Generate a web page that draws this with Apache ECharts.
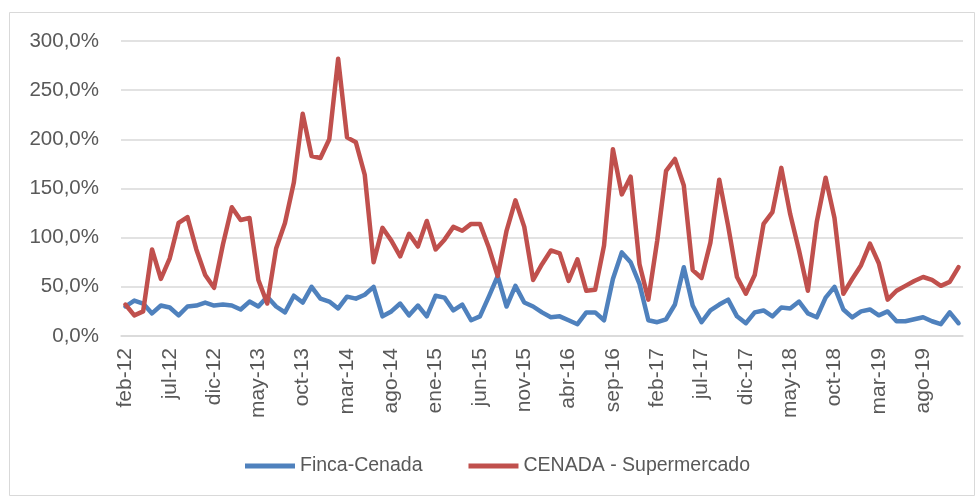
<!DOCTYPE html>
<html>
<head>
<meta charset="utf-8">
<script src="https://cdn.jsdelivr.net/npm/echarts@6/dist/echarts.min.js"></script>
<style>
  html, body { margin: 0; padding: 0; background: #fff; }
  #chart { width: 978px; height: 497px; }
</style>
</head>
<body>
<div id="chart"></div>
<script>
// meses feb-12 .. dic-19
const months = [
  'feb-12', 'mar-12', 'abr-12', 'may-12', 'jun-12', 'jul-12', 'ago-12', 'sep-12', 'oct-12', 'nov-12', 'dic-12',
  'ene-13', 'feb-13', 'mar-13', 'abr-13', 'may-13', 'jun-13', 'jul-13', 'ago-13', 'sep-13', 'oct-13', 'nov-13', 'dic-13',
  'ene-14', 'feb-14', 'mar-14', 'abr-14', 'may-14', 'jun-14', 'jul-14', 'ago-14', 'sep-14', 'oct-14', 'nov-14', 'dic-14',
  'ene-15', 'feb-15', 'mar-15', 'abr-15', 'may-15', 'jun-15', 'jul-15', 'ago-15', 'sep-15', 'oct-15', 'nov-15', 'dic-15',
  'ene-16', 'feb-16', 'mar-16', 'abr-16', 'may-16', 'jun-16', 'jul-16', 'ago-16', 'sep-16', 'oct-16', 'nov-16', 'dic-16',
  'ene-17', 'feb-17', 'mar-17', 'abr-17', 'may-17', 'jun-17', 'jul-17', 'ago-17', 'sep-17', 'oct-17', 'nov-17', 'dic-17',
  'ene-18', 'feb-18', 'mar-18', 'abr-18', 'may-18', 'jun-18', 'jul-18', 'ago-18', 'sep-18', 'oct-18', 'nov-18', 'dic-18',
  'ene-19', 'feb-19', 'mar-19', 'abr-19', 'may-19', 'jun-19', 'jul-19', 'ago-19', 'sep-19', 'oct-19', 'nov-19', 'dic-19'
]

// margen en %
const fincaCenada = [
  30, 36, 33, 23, 31, 29, 21, 30, 31, 34, 31,
  32, 31, 27, 35, 30, 40, 30, 24, 41, 34, 50, 38,
  35, 28, 40, 38, 42, 50, 20, 25, 33, 21, 31, 20,
  41, 39, 26, 32, 16, 20, 40, 61, 30, 51, 34, 30,
  24, 19, 20, 16, 12, 24, 24, 16, 58, 85, 75, 53,
  16, 14, 17, 32, 70, 31, 14, 26, 32, 37, 20, 13,
  24, 26, 20, 29, 28, 35, 23, 19, 39, 50, 27, 19,
  25, 27, 21, 25, 15, 15, 17, 19, 15, 12, 24, 13
]

const cenadaSuper = [
  32, 21, 25, 88, 58, 79, 115, 121, 88, 62, 49,
  93, 131, 118, 120, 57, 33, 89, 115, 156, 226, 183, 181,
  200, 282, 202, 197, 164, 75, 110, 97, 81, 104, 91, 117,
  88, 98, 111, 107, 114, 114, 90, 61, 107, 138, 111, 57,
  73, 87, 84, 56, 78, 46, 47, 92, 190, 144, 162, 73,
  37, 97, 168, 180, 153, 67, 59, 95, 159, 112, 60, 43,
  62, 114, 126, 171, 124, 87, 46, 116, 161, 120, 43, 58,
  72, 94, 74, 37, 46, 51, 56, 60, 57, 51, 55, 70
]

const chart = echarts.init(document.getElementById('chart'))
const font = 'Liberation Sans'

chart.setOption({
  animation: false,
  backgroundColor: '#fff',
  // marco del gráfico
  graphic: [{
    type: 'rect',
    shape: { x: 9.5, y: 12.5, width: 965, height: 483 },
    style: { fill: 'none', stroke: '#d9d9d9', lineWidth: 1 }
  }],
  grid: {
    left: 121,
    right: 15,
    top: 41,
    bottom: 161
  },
  legend: {
    left: 240,
    top: 451,
    itemWidth: 50,
    itemHeight: 5,
    itemGap: 46,
    icon: 'rect',
    textStyle: { fontFamily: font, fontSize: 19.5, color: '#595959' },
    data: ['Finca-Cenada', 'CENADA - Supermercado']
  },
  xAxis: {
    type: 'category',
    data: months,
    boundaryGap: true,
    axisLine: { show: true, lineStyle: { color: '#d9d9d9', width: 1.5 } },
    axisTick: { show: false },
    axisLabel: {
      interval: 4,
      rotate: 90,
      margin: 12,
      fontFamily: font,
      fontSize: 21,
      color: '#595959'
    }
  },
  yAxis: {
    type: 'value',
    min: 0,
    max: 300,
    interval: 50,
    axisLine: { show: false },
    axisTick: { show: false },
    splitLine: { lineStyle: { color: '#d9d9d9', width: 1.5 } },
    axisLabel: {
      margin: 22,
      fontFamily: font,
      fontSize: 20.5,
      color: '#595959',
      formatter: v => v + ',0%'
    }
  },
  series: [
    {
      name: 'Finca-Cenada',
      type: 'line',
      data: fincaCenada,
      symbol: 'none',
      color: '#4f81bd',
      lineStyle: { width: 4.5, color: '#4f81bd', join: 'round', cap: 'round' }
    },
    {
      name: 'CENADA - Supermercado',
      type: 'line',
      data: cenadaSuper,
      symbol: 'none',
      color: '#c0504d',
      lineStyle: { width: 4.5, color: '#c0504d', join: 'round', cap: 'round' }
    }
  ]
})
</script>
</body>
</html>
